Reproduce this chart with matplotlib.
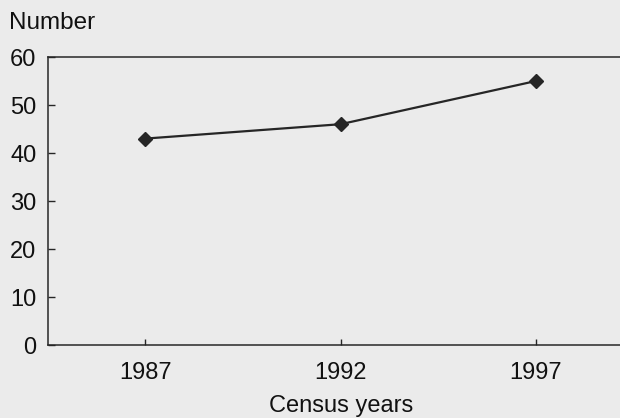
import matplotlib
matplotlib.use("Agg")
import matplotlib.pyplot as plt

# census data
years = [1987, 1992, 1997]
counts = [43, 46, 55]
yticks = [0, 10, 20, 30, 40, 50, 60]

plt.rcParams['font.family'] = ['Liberation Sans', 'DejaVu Sans']
bg = '#ebebeb'
ink = '#262626'

fig = plt.figure(figsize=(6.2, 4.18), dpi=100, facecolor=bg)
ax = fig.add_axes([47.5 / 620, 73 / 418, 1 - 47.5 / 620, 288 / 418])
ax.set_facecolor(bg)

ax.plot(years, counts, color=ink, lw=1.6, marker='D', ms=7.5,
        markerfacecolor=ink, markeredgecolor=ink)

ax.set_xlim(1984.5, 1999.15)
ax.set_ylim(0, 60)
ax.set_xticks(years)
ax.set_yticks(yticks)

for s in ['left', 'bottom', 'top']:
    ax.spines[s].set_color(ink)
    ax.spines[s].set_linewidth(1.1)
ax.spines['right'].set_visible(False)

ax.tick_params(axis='y', direction='in', length=5, width=1, color=ink,
               pad=8, labelsize=17, labelcolor='#111111')
ax.tick_params(axis='x', direction='in', length=4.5, width=1, color=ink,
               pad=12, labelsize=17, labelcolor='#111111')

ax.set_xlabel('Census years', fontsize=17, color='#111111')
ax.xaxis.set_label_coords((341 - 47.5) / 572.5, -0.172)
fig.text(9 / 620, 1 - 23 / 418, 'Number', fontsize=17.5, va='center',
         ha='left', color='#111111')

fig.savefig('out.png', dpi=100, facecolor=bg)
